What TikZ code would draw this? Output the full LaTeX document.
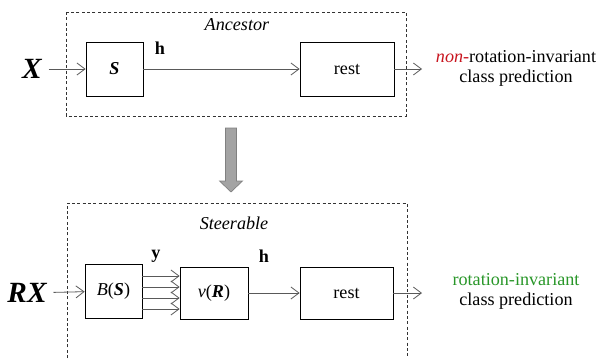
\documentclass[tikz,border=0pt]{standalone}
\usepackage{fontspec}
\setmainfont{Liberation Serif}
\usetikzlibrary{arrows.meta,positioning}
\definecolor{ncred}{RGB}{200,20,30}
\definecolor{rigreen}{RGB}{40,150,40}
\tikzset{
  block/.style={draw, line width=0.6pt, inner sep=0pt, font=\fontsize{13.6}{15}\selectfont},
  lbl/.style={font=\fontsize{13.6}{15}\selectfont},
  big/.style={font=\fontsize{22}{24}\selectfont\bfseries\itshape, inner sep=5pt},
  frame/.style={draw=black!80, line width=0.6pt, dash pattern=on 2.2pt off 1.8pt},
  flow/.style={draw=black!65, line width=0.6pt, -{Straight Barb[length=6pt,width=9pt]}}
}
\begin{document}
\begin{tikzpicture}[x=0.75pt,y=-0.75pt]
            \useasboundingbox (0,0) rectangle (598,358);

            \draw[frame] (66,12) rectangle (406,116);
            \draw[frame] (67,358) -- (67,203) -- (407,203) -- (407,358);

            \node[lbl] (anc) at (237,25) {\textit{Ancestor}};
            \node[lbl] (steer) at (234,223) {\textit{Steerable}};

            \node[big] (X) at (32,69) {X};
            \node[block, minimum width=42.75pt, minimum height=40.5pt] (S) at (114.5,69) {\textbf{\textit{S}}};
            \node[block, minimum width=70.5pt, minimum height=40.5pt] (rest1) at (347,69) {rest};
            \node[lbl] (h1) at (160,48) {\textbf{h}};
            \coordinate (o1) at (422,69);
            \node[lbl, align=center] (out1) at (516,68) {\textcolor{ncred}{\textit{non}-}rotation-invariant\\class prediction};

            \draw[fill=black!36, draw=black!50, line width=0.5pt] (225.5,128) -- (236.5,128) -- (236.5,181) -- (242.5,181) -- (231,192) -- (219.5,181) -- (225.5,181) -- cycle;

            \node[big] (RX) at (27,293) {RX};
            \node[block, minimum width=42.75pt, minimum height=40.5pt] (BS) at (113.5,291) {\textit{B}(\textbf{\textit{S}})};
            \node[block, minimum width=51pt, minimum height=39pt] (vR) at (214,293) {\textit{v}(\textbf{\textit{R}})};
            \node[block, minimum width=69.75pt, minimum height=39pt] (rest2) at (346.5,293) {rest};
            \node[lbl] (y) at (156,256) {\textbf{y}};
            \node[lbl] (h2) at (264,256) {\textbf{h}};
            \coordinate (o2) at (422,293);
            \node[lbl, align=center] (out2) at (516,291) {\textcolor{rigreen}{rotation-invariant}\\class prediction};

            \foreach \i/\yy in {1/276, 2/287, 3/298, 4/309} {
              \coordinate (ya\i) at (BS.east |- 0,\yy);
              \coordinate (yb\i) at (vR.west |- 0,\yy);
              \draw[flow] (ya\i) -- (yb\i);
            }

            \draw[flow] (X) -- (S);
            \draw[flow] (S) -- (rest1);
            \draw[flow] (rest1) -- (o1);
            \draw[flow] (RX) -- (BS);
            \draw[flow] (vR) -- (rest2);
            \draw[flow] (rest2) -- (o2);

        \end{tikzpicture}
\end{document}
